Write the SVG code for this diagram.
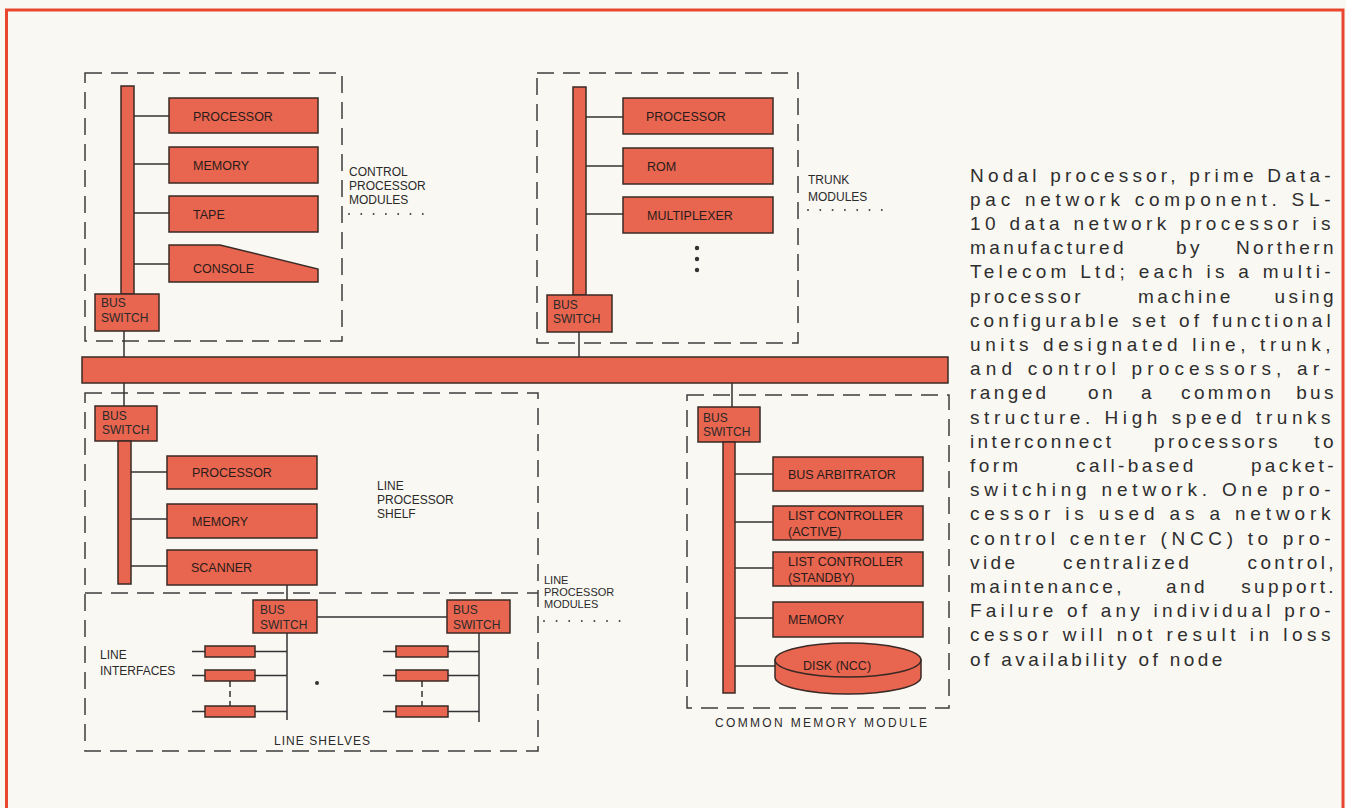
<svg xmlns="http://www.w3.org/2000/svg" width="1346" height="808" viewBox="0 0 1346 808">
<style>
.bg{fill:#faf8f3}
.frame{fill:none;stroke:#e8462f;stroke-width:3}
.box{fill:#e8654f;stroke:#3a2a26;stroke-width:1.5}
.dash{fill:none;stroke:#3d3d3d;stroke-width:1.5;stroke-dasharray:17 9}
.wire{fill:none;stroke:#333;stroke-width:1.5}
.small-dash{fill:none;stroke:#333;stroke-width:1.5;stroke-dasharray:6 4}
.dots{fill:none;stroke:#444;stroke-width:2;stroke-linecap:round}
.t{font-family:"Liberation Sans",Arial,sans-serif;font-size:12.5px;fill:#2a1c1a}
.c{font-family:"Liberation Sans",Arial,sans-serif;font-size:12px;fill:#2a2a2a}
.p{font-family:"Liberation Sans",Arial,sans-serif;font-size:19px;letter-spacing:3.4px;fill:#2e2e2e}
</style>
<rect class="bg" x="0" y="0" width="1346" height="808"/>
<path class="frame" d="M6.5,812 V10 H1343 V812"/>

<g id="modules-outlines">
<rect class="dash" x="85" y="73" width="257" height="268"/>
<rect class="dash" x="537" y="73" width="261" height="270"/>
<rect class="dash" x="85" y="393" width="453" height="358"/>
<line class="dash" x1="85" y1="593" x2="538" y2="593"/>
<rect class="dash" x="687" y="395" width="262" height="313"/>
</g>

<g id="connectors">
<line class="wire" x1="134" y1="116" x2="169" y2="116"/>
<line class="wire" x1="134" y1="164" x2="169" y2="164"/>
<line class="wire" x1="134" y1="213" x2="169" y2="213"/>
<line class="wire" x1="134" y1="264" x2="169" y2="264"/>
<line class="wire" x1="124" y1="331" x2="124" y2="357"/>
<line class="wire" x1="586" y1="117" x2="623" y2="117"/>
<line class="wire" x1="586" y1="166" x2="623" y2="166"/>
<line class="wire" x1="586" y1="214" x2="623" y2="214"/>
<line class="wire" x1="579" y1="332" x2="579" y2="357"/>
<line class="wire" x1="124" y1="383" x2="124" y2="406"/>
<line class="wire" x1="131" y1="472" x2="167" y2="472"/>
<line class="wire" x1="131" y1="519" x2="167" y2="519"/>
<line class="wire" x1="131" y1="566" x2="167" y2="566"/>
<line class="wire" x1="287" y1="585" x2="287" y2="600"/>
<line class="wire" x1="317" y1="617" x2="447" y2="617"/>
<line class="wire" x1="287" y1="633" x2="287" y2="720"/>
<line class="wire" x1="479" y1="633" x2="479" y2="722"/>
<line class="wire" x1="192" y1="651.5" x2="205" y2="651.5"/>
<line class="wire" x1="255" y1="651.5" x2="287" y2="651.5"/>
<line class="wire" x1="192" y1="675.5" x2="205" y2="675.5"/>
<line class="wire" x1="255" y1="675.5" x2="287" y2="675.5"/>
<line class="wire" x1="192" y1="711.5" x2="205" y2="711.5"/>
<line class="wire" x1="255" y1="711.5" x2="287" y2="711.5"/>
<line class="small-dash" x1="230" y1="681" x2="230" y2="706"/>
<line class="wire" x1="383" y1="651.5" x2="396" y2="651.5"/>
<line class="wire" x1="448" y1="651.5" x2="479" y2="651.5"/>
<line class="wire" x1="383" y1="675.5" x2="396" y2="675.5"/>
<line class="wire" x1="448" y1="675.5" x2="479" y2="675.5"/>
<line class="wire" x1="383" y1="711.5" x2="396" y2="711.5"/>
<line class="wire" x1="448" y1="711.5" x2="479" y2="711.5"/>
<line class="small-dash" x1="422" y1="681" x2="422" y2="706"/>
<line class="wire" x1="732" y1="383" x2="732" y2="407"/>
<line class="wire" x1="735" y1="474" x2="773" y2="474"/>
<line class="wire" x1="735" y1="522" x2="773" y2="522"/>
<line class="wire" x1="735" y1="568" x2="773" y2="568"/>
<line class="wire" x1="735" y1="618" x2="773" y2="618"/>
<line class="wire" x1="735" y1="666" x2="775" y2="666"/>
</g>

<g id="common-bus">
<rect class="box" x="82" y="357" width="866" height="26"/>
</g>

<g id="control-processor-modules">
<rect class="box" x="121" y="86" width="13" height="208"/>
<rect class="box" x="169" y="98" width="149" height="35"/>
<text class="t" x="193" y="121">PROCESSOR</text>
<rect class="box" x="169" y="147" width="149" height="36"/>
<text class="t" x="193" y="169.5">MEMORY</text>
<rect class="box" x="169" y="196" width="149" height="36"/>
<text class="t" x="193" y="218.5">TAPE</text>
<polygon class="box" points="169,245 220,245 318,269 318,282 169,282"/>
<text class="t" x="193" y="273">CONSOLE</text>
<rect class="box" x="95" y="294" width="64" height="37"/>
<text class="c" x="101" y="307">BUS</text>
<text class="c" x="101" y="322">SWITCH</text>
<text class="c" x="349" y="176">CONTROL</text>
<text class="c" x="349" y="190">PROCESSOR</text>
<text class="c" x="349" y="204">MODULES</text>
<line class="dots" x1="349" y1="214" x2="423" y2="214" stroke-dasharray="0 12.3"/>
</g>

<g id="trunk-modules">
<rect class="box" x="573" y="87" width="13" height="208"/>
<rect class="box" x="623" y="98" width="150" height="36"/>
<text class="t" x="646" y="121">PROCESSOR</text>
<rect class="box" x="623" y="148" width="150" height="36"/>
<text class="t" x="647" y="171">ROM</text>
<rect class="box" x="623" y="197" width="150" height="36"/>
<text class="t" x="647" y="220">MULTIPLEXER</text>
<circle cx="697" cy="248" r="2.2" fill="#333"/>
<circle cx="697" cy="259" r="2.2" fill="#333"/>
<circle cx="697" cy="270" r="2.2" fill="#333"/>
<rect class="box" x="547" y="295" width="65" height="37"/>
<text class="c" x="553" y="309">BUS</text>
<text class="c" x="553" y="323">SWITCH</text>
<text class="c" x="808" y="184">TRUNK</text>
<text class="c" x="808" y="201">MODULES</text>
<line class="dots" x1="808" y1="210" x2="882" y2="210" stroke-dasharray="0 12.3"/>
</g>

<g id="line-processor-shelf">
<rect class="box" x="95" y="406" width="62" height="35"/>
<text class="c" x="102" y="420">BUS</text>
<text class="c" x="102" y="434">SWITCH</text>
<rect class="box" x="118" y="441" width="13" height="143"/>
<rect class="box" x="167" y="456" width="150" height="33"/>
<text class="t" x="192" y="477">PROCESSOR</text>
<rect class="box" x="167" y="504" width="150" height="34"/>
<text class="t" x="192" y="526">MEMORY</text>
<rect class="box" x="167" y="550" width="150" height="35"/>
<text class="t" x="191" y="572">SCANNER</text>
<text class="c" x="377" y="490">LINE</text>
<text class="c" x="377" y="504">PROCESSOR</text>
<text class="c" x="377" y="518">SHELF</text>
</g>

<g id="line-processor-modules-label">
<text class="c" x="544" y="584" style="font-size:11px">LINE</text>
<text class="c" x="544" y="596" style="font-size:11px">PROCESSOR</text>
<text class="c" x="544" y="608" style="font-size:11px">MODULES</text>
<line class="dots" x1="544" y1="621" x2="620" y2="621" stroke-dasharray="0 12.6"/>
</g>

<g id="line-shelves">
<rect class="box" x="253" y="600" width="64" height="33"/>
<text class="c" x="260" y="614">BUS</text>
<text class="c" x="260" y="629">SWITCH</text>
<rect class="box" x="447" y="600" width="63" height="33"/>
<text class="c" x="453" y="614">BUS</text>
<text class="c" x="453" y="629">SWITCH</text>
<rect class="box" x="205" y="646" width="50" height="11"/>
<rect class="box" x="205" y="670" width="50" height="11"/>
<rect class="box" x="205" y="706" width="50" height="11"/>
<rect class="box" x="396" y="646" width="52" height="11"/>
<rect class="box" x="396" y="670" width="52" height="11"/>
<rect class="box" x="396" y="706" width="52" height="11"/>
<circle cx="317" cy="683" r="2" fill="#333"/>
<text class="c" x="100" y="659">LINE</text>
<text class="c" x="100" y="675">INTERFACES</text>
<text class="c" x="274" y="745" textLength="96" lengthAdjust="spacing">LINE SHELVES</text>
</g>

<g id="common-memory-module">
<rect class="box" x="698" y="407" width="62" height="35"/>
<text class="c" x="703" y="422">BUS</text>
<text class="c" x="703" y="436">SWITCH</text>
<rect class="box" x="723" y="442" width="12" height="251"/>
<rect class="box" x="773" y="457" width="150" height="34"/>
<text class="t" x="788" y="479">BUS ARBITRATOR</text>
<rect class="box" x="773" y="506" width="150" height="34"/>
<text class="t" x="788" y="520">LIST CONTROLLER</text>
<text class="t" x="788" y="536">(ACTIVE)</text>
<rect class="box" x="773" y="552" width="150" height="34"/>
<text class="t" x="788" y="566">LIST CONTROLLER</text>
<text class="t" x="788" y="582">(STANDBY)</text>
<rect class="box" x="773" y="602" width="150" height="35"/>
<text class="t" x="788" y="624">MEMORY</text>
<path class="box" d="M775,660 V677 A73,17 0 0 0 921,677 V660 Z"/>
<ellipse class="box" cx="848" cy="660" rx="73" ry="17"/>
<text class="t" x="803" y="670">DISK (NCC)</text>
<text class="c" x="715" y="727" textLength="212" lengthAdjust="spacing">COMMON MEMORY MODULE</text>
</g>

<g id="caption">
<text class="p" x="970" y="181.5" textLength="364" lengthAdjust="spacing">Nodal processor, prime Data-</text>
<text class="p" x="970" y="205.7" textLength="364" lengthAdjust="spacing">pac network component. SL-</text>
<text class="p" x="970" y="229.9" textLength="364" lengthAdjust="spacing">10 data network processor is</text>
<text class="p" x="970" y="254.1">manufactured</text>
<text class="p" x="1176" y="254.1">by</text>
<text class="p" x="1337" y="254.1" text-anchor="end">Northern</text>
<text class="p" x="970" y="278.3" textLength="364" lengthAdjust="spacing">Telecom Ltd; each is a multi-</text>
<text class="p" x="970" y="302.5">processor</text>
<text class="p" x="1138" y="302.5">machine</text>
<text class="p" x="1337" y="302.5" text-anchor="end">using</text>
<text class="p" x="970" y="326.7" textLength="364" lengthAdjust="spacing">configurable set of functional</text>
<text class="p" x="970" y="350.9" textLength="364" lengthAdjust="spacing">units designated line, trunk,</text>
<text class="p" x="970" y="375.1" textLength="364" lengthAdjust="spacing">and control processors, ar-</text>
<text class="p" x="970" y="399.3">ranged</text>
<text class="p" x="1088" y="399.3">on</text>
<text class="p" x="1141" y="399.3">a</text>
<text class="p" x="1181" y="399.3">common</text>
<text class="p" x="1337" y="399.3" text-anchor="end">bus</text>
<text class="p" x="970" y="423.5" textLength="364" lengthAdjust="spacing">structure. High speed trunks</text>
<text class="p" x="970" y="447.7">interconnect</text>
<text class="p" x="1154" y="447.7">processors</text>
<text class="p" x="1337" y="447.7" text-anchor="end">to</text>
<text class="p" x="970" y="471.9">form</text>
<text class="p" x="1076" y="471.9">call-based</text>
<text class="p" x="1337" y="471.9" text-anchor="end">packet-</text>
<text class="p" x="970" y="496.1" textLength="364" lengthAdjust="spacing">switching network. One pro-</text>
<text class="p" x="970" y="520.3" textLength="364" lengthAdjust="spacing">cessor is used as a network</text>
<text class="p" x="970" y="544.5" textLength="364" lengthAdjust="spacing">control center (NCC) to pro-</text>
<text class="p" x="970" y="568.7">vide</text>
<text class="p" x="1063" y="568.7">centralized</text>
<text class="p" x="1337" y="568.7" text-anchor="end">control,</text>
<text class="p" x="970" y="592.9">maintenance,</text>
<text class="p" x="1166" y="592.9">and</text>
<text class="p" x="1337" y="592.9" text-anchor="end">support.</text>
<text class="p" x="970" y="617.1" textLength="364" lengthAdjust="spacing">Failure of any individual pro-</text>
<text class="p" x="970" y="641.3" textLength="364" lengthAdjust="spacing">cessor will not result in loss</text>
<text class="p" x="970" y="665.5">of availability of node</text>
</g>
</svg>
